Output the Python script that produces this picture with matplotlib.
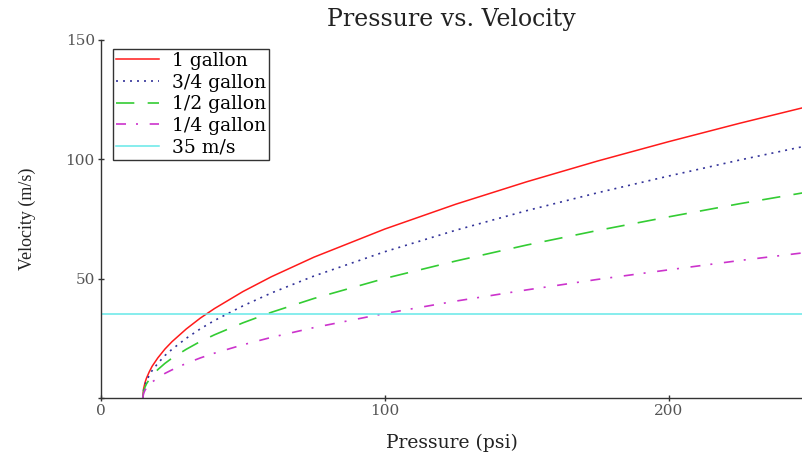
import matplotlib
matplotlib.use('Agg')
import matplotlib.pyplot as plt

# Давление (psi) и скорость (m/s)
pressure = [14.7, 15, 15.5, 16, 17, 18, 20, 22.5, 25, 30, 35, 40, 50, 60, 75,
            100, 125, 150, 175, 200, 225, 250]
v_1gal = [0, 3.9, 6.5, 8.3, 11.0, 13.3, 16.8, 20.5, 23.6, 28.9, 33.5, 37.5,
          44.6, 50.8, 59.0, 70.8, 81.2, 90.6, 99.3, 107.4, 115.1, 122.4]
v_34gal = [0, 3.4, 5.6, 7.2, 9.5, 11.5, 14.5, 17.8, 20.4, 25.0, 29.0, 32.5,
           38.6, 44.0, 51.1, 61.3, 70.3, 78.5, 86.0, 93.0, 99.7, 106.0]
v_12gal = [0, 2.8, 4.6, 5.9, 7.8, 9.4, 11.9, 14.5, 16.7, 20.4, 23.7, 26.5,
           31.5, 35.9, 41.7, 50.1, 57.4, 64.1, 70.2, 75.9, 81.4, 86.5]
v_14gal = [0, 2.0, 3.3, 4.2, 5.5, 6.7, 8.4, 10.3, 11.8, 14.5, 16.8, 18.8,
           22.3, 25.4, 29.5, 35.4, 40.6, 45.3, 49.7, 53.7, 57.6, 61.2]
target_speed = 35

labels = ['1 gallon', '3/4 gallon', '1/2 gallon', '1/4 gallon', '35 m/s']

# широкий шрифт с засечками для горизонтального текста
plt.rcParams['font.family'] = ['DejaVu Serif']

fig = plt.figure(figsize=(8.02, 4.53), dpi=100)
ax = fig.add_axes([0.126, 0.1214, 0.874, 0.7903])

ax.plot(pressure, v_1gal, color='#ff1a1a', lw=1.1, label=labels[0])
ax.plot(pressure, v_34gal, color='#333399', lw=1.2, ls=(0, (1.2, 3.0)), label=labels[1])
ax.plot(pressure, v_12gal, color='#33cc33', lw=1.2, ls=(0, (11, 8)), label=labels[2])
ax.plot(pressure, v_14gal, color='#cc33cc', lw=1.2, ls=(0, (6, 6, 1.2, 7)), label=labels[3])
ax.axhline(target_speed, color='#66e8e8', lw=1.1, label=labels[4])

ax.set_xlim(0, 247)
ax.set_ylim(0, 150)
ax.set_xticks([0, 100, 200])
ax.set_yticks([0, 50, 100, 150])
ax.set_yticklabels(['', '50', '100', '150'])

for side in ['top', 'right']:
    ax.spines[side].set_visible(False)
for side in ['left', 'bottom']:
    ax.spines[side].set_color('#333333')
    ax.spines[side].set_linewidth(1.0)
ax.tick_params(direction='inout', length=5, width=1, colors='#333333',
               labelsize=11, labelcolor='#555555', pad=2)

ax.set_title('Pressure vs. Velocity', fontsize=17, color='#222222', pad=10)
ax.set_xlabel('Pressure (psi)', fontsize=13.5, color='#222222', labelpad=11)
ax.set_ylabel('Velocity (m/s)', fontsize=13, color='#222222', labelpad=21,
              family=['Liberation Serif', 'DejaVu Serif'])

leg = ax.legend(loc='upper left', bbox_to_anchor=(0.017, 0.975), fontsize=13.5,
                frameon=True, fancybox=False, framealpha=1, edgecolor='#333333',
                handlelength=2.3, handletextpad=0.7, labelspacing=0.2,
                borderpad=0.15, borderaxespad=0)
leg.get_frame().set_linewidth(1.0)

fig.savefig('out.png', dpi=100)
